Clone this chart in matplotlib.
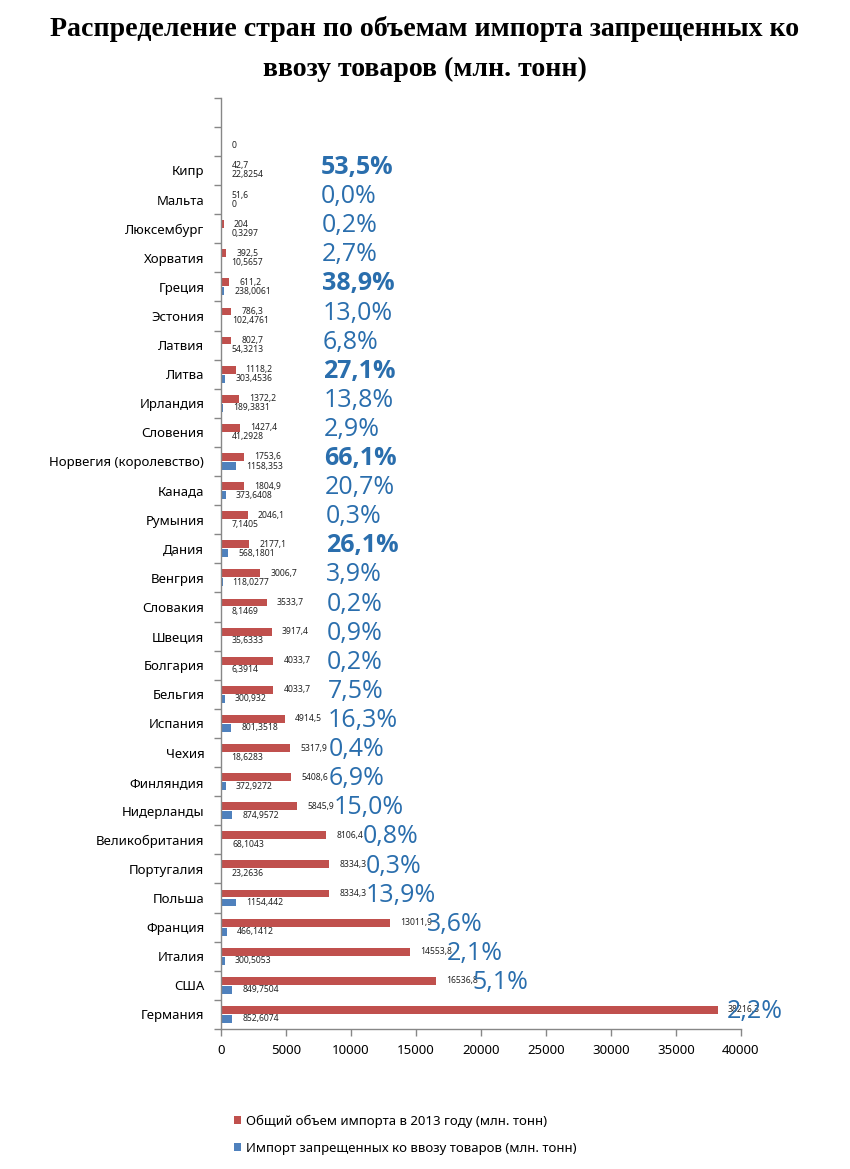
import matplotlib
matplotlib.use("Agg")
import matplotlib.pyplot as plt
from matplotlib.patches import Patch

plt.rcParams['font.family'] = ['Noto Sans', 'DejaVu Sans']

title = "Распределение стран по объемам импорта запрещенных ко\nввозу товаров (млн. тонн)"

# Categories listed top to bottom as shown in the chart
categories = ["", "", "Кипр", "Мальта", "Люксембург", "Хорватия", "Греция", "Эстония",
              "Латвия", "Литва", "Ирландия", "Словения", "Норвегия (королевство)",
              "Канада", "Румыния", "Дания", "Венгрия", "Словакия", "Швеция", "Болгария",
              "Бельгия", "Испания", "Чехия", "Финляндия", "Нидерланды", "Великобритания",
              "Португалия", "Польша", "Франция", "Италия", "США", "Германия"]

total_import = [None, None, 42.7, 51.6, 204, 392.5, 611.2, 786.3, 802.7, 1118.2, 1372.2,
                1427.4, 1753.6, 1804.9, 2046.1, 2177.1, 3006.7, 3533.7, 3917.4, 4033.7,
                4033.7, 4914.5, 5317.9, 5408.6, 5845.9, 8106.4, 8334.3, 8334.3, 13011.9,
                14553.8, 16536.8, 38216.3]

banned_import = [None, 0, 22.8254, 0, 0.3297, 10.5657, 238.0061, 102.4761, 54.3213,
                 303.4536, 189.3831, 41.2928, 1158.353, 373.6408, 7.1405, 568.1801,
                 118.0277, 8.1469, 35.6333, 6.3914, 300.932, 801.3518, 18.6283, 372.9272,
                 874.9572, 68.1043, 23.2636, 1154.442, 466.1412, 300.5053, 849.7504,
                 852.6074]

share_labels = [None, None, "53,5%", "0,0%", "0,2%", "2,7%", "38,9%", "13,0%", "6,8%",
                "27,1%", "13,8%", "2,9%", "66,1%", "20,7%", "0,3%", "26,1%", "3,9%",
                "0,2%", "0,9%", "0,2%", "7,5%", "16,3%", "0,4%", "6,9%", "15,0%", "0,8%",
                "0,3%", "13,9%", "3,6%", "2,1%", "5,1%", "2,2%"]

legend_labels = ["Общий объем импорта в 2013 году (млн. тонн)",
                 "Импорт запрещенных ко ввозу товаров (млн. тонн)"]

xticks = [0, 5000, 10000, 15000, 20000, 25000, 30000, 35000, 40000]

RED = "#C0504D"
BLUE = "#4F81BD"
PCT = "#2A6EAD"
AXC = "#878787"


def fmt(v):
    s = repr(float(v))
    if s.endswith(".0"):
        s = s[:-2]
    return s.replace(".", ",")


fig = plt.figure(figsize=(8.5, 11.69), dpi=100)
fig.patch.set_facecolor("white")
ax = fig.add_axes([221 / 850, 140 / 1169, 520 / 850, (1029 - 97.7) / 1169])

n = len(categories)
ys = [n - 1 - i for i in range(n)]
off = 0.155
h = 0.27

for i, y in enumerate(ys):
    t = total_import[i]
    b = banned_import[i]
    if t is not None:
        ax.barh(y + off, t, height=h, color=RED, zorder=2)
        ax.text(t + 780, y + off, fmt(t), fontsize=6.2, va="center", ha="left", color="#222222")
    if b is not None:
        ax.barh(y - off, b, height=h, color=BLUE, zorder=2)
        ax.text(b + 780, y - off, fmt(b), fontsize=6.2, va="center", ha="left", color="#222222")
    s = share_labels[i]
    if s is not None:
        pct = b / t * 100
        xl = min(max(7600 + 30 * i, t + 2800), 38900)
        ax.text(xl, y + 0.1, s, fontsize=18, va="center", ha="left", color=PCT,
                family=["Open Sans", "DejaVu Sans"],
                fontweight="bold" if pct > 25 else "normal")

ax.set_xlim(0, 40000)
ax.set_ylim(-0.5, n - 0.5)
ax.set_xticks(xticks)
ax.set_xticklabels([str(v) for v in xticks], fontsize=9.5)
ax.set_yticks(ys)
ax.set_yticklabels(categories, fontsize=9.5)
ax.set_yticks([y + 0.5 for y in range(-1, n)], minor=True)
ax.tick_params(axis="y", which="major", length=0, pad=12)
ax.tick_params(axis="y", which="minor", length=5, color=AXC, width=1, direction="out")
ax.tick_params(axis="x", which="major", length=5, color=AXC, width=1, direction="out", pad=6)
for sp in ["top", "right"]:
    ax.spines[sp].set_visible(False)
for sp in ["left", "bottom"]:
    ax.spines[sp].set_color(AXC)
    ax.spines[sp].set_linewidth(1)

fig.text(0.5, 1 - 49 / 1169, title, ha="center", va="center", fontsize=20.1,
         fontweight="bold", family=["Liberation Serif", "DejaVu Serif"], linespacing=1.75)

handles = [Patch(facecolor=RED), Patch(facecolor=BLUE)]
fig.legend(handles, legend_labels, loc="upper left", bbox_to_anchor=(222 / 850, 1 - 1103 / 1169),
           frameon=False, fontsize=9.5, handlelength=0.55, handleheight=0.55,
           handletextpad=0.4, labelspacing=1.05)

fig.savefig("out.png", dpi=100, facecolor="white")
